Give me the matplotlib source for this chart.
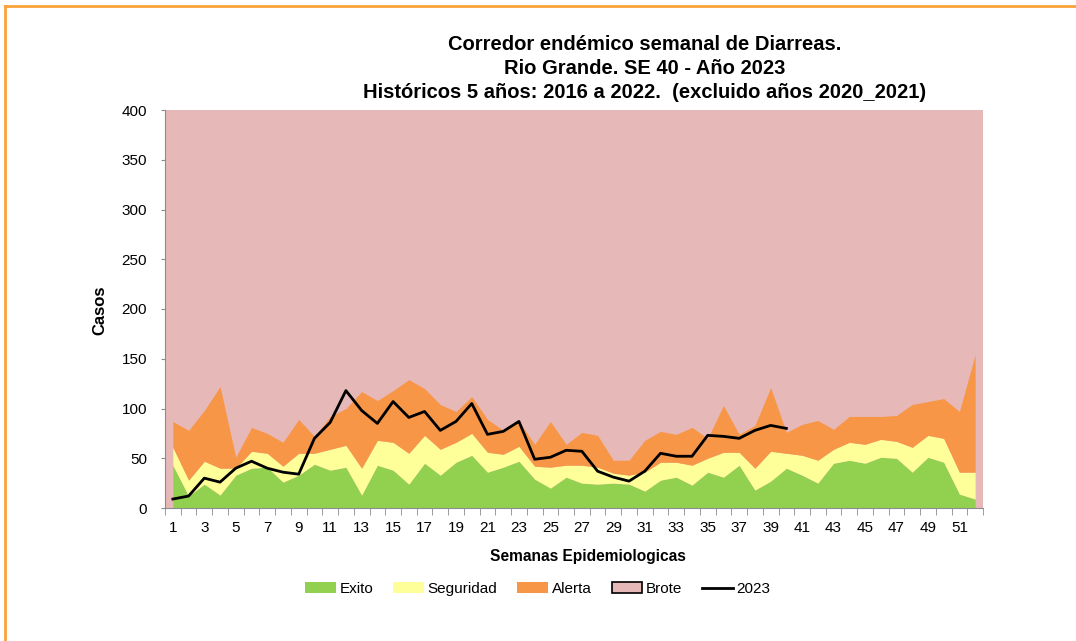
import numpy as np
import matplotlib
matplotlib.use("Agg")
import matplotlib.pyplot as plt
from matplotlib.patches import Patch
from matplotlib.lines import Line2D

plt.rcParams['font.family'] = ['Liberation Sans', 'DejaVu Sans']

# semanas epidemiologicas
semanas = list(range(1, 53))

# umbrales historicos (acumulados): percentil 25, mediana, percentil 75
limite_exito = [43, 12, 24, 13, 33, 40, 41, 26, 33, 44, 38, 41, 13, 43, 38, 24, 45, 33, 46, 53,
                36, 41, 47, 29, 20, 31, 25, 24, 25, 24, 17, 28, 31, 23, 36, 31, 43, 18, 27, 40,
                33, 25, 45, 48, 45, 51, 50, 36, 51, 46, 14, 9]
limite_seguridad = [61, 28, 47, 40, 40, 57, 55, 42, 55, 55, 59, 63, 40, 68, 66, 55, 73, 59, 66, 75,
                    56, 54, 62, 42, 41, 43, 43, 41, 35, 33, 36, 46, 46, 43, 50, 56, 56, 40, 57, 55,
                    53, 48, 59, 66, 64, 69, 67, 61, 73, 70, 36, 36]
limite_alerta = [87, 78, 98, 122, 51, 81, 75, 66, 89, 72, 92, 100, 117, 108, 118, 129, 120, 104, 97, 112,
                 89, 78, 87, 64, 87, 64, 76, 73, 48, 48, 68, 77, 74, 81, 70, 103, 74, 83, 121, 76,
                 84, 88, 79, 92, 92, 92, 93, 104, 107, 110, 97, 154]
limite_brote = 400

# casos 2023 hasta la SE 40
casos_2023 = [9, 12, 30, 26, 40, 47, 40, 36, 34, 70, 86, 118, 98, 85, 107, 91, 97, 78, 87, 105,
              74, 77, 87, 49, 51, 58, 57, 37, 31, 27, 37, 55, 52, 52, 73, 72, 70, 78, 83, 80]

c_exito = '#92D050'
c_seguridad = '#FFFF99'
c_alerta = '#F79646'
c_brote = '#E6B8B7'
gris = '#8C8C8C'

fig = plt.figure(figsize=(10.76, 6.41), dpi=100)
ax = fig.add_axes([165 / 1076, 1 - 508 / 641, 818 / 1076, 398 / 641])
ax.set_facecolor(c_brote)

x = np.array(semanas)
ax.fill_between(x, 0, limite_exito, color=c_exito, lw=0)
ax.fill_between(x, limite_exito, limite_seguridad, color=c_seguridad, lw=0)
ax.fill_between(x, limite_seguridad, limite_alerta, color=c_alerta, lw=0)
ax.plot(range(1, len(casos_2023) + 1), casos_2023, color='black', lw=2)

ax.set_xlim(0.5, 52.5)
ax.set_ylim(0, limite_brote)
ax.set_yticks(np.arange(0, 401, 50))
ax.set_xticks(semanas[::2])
ax.set_xticks(np.arange(0.5, 53, 1), minor=True)
ax.tick_params(axis='x', which='major', length=0, labelsize=11, pad=9)
ax.tick_params(axis='x', which='minor', length=5, color=gris, direction='out')
ax.tick_params(axis='y', length=3, color=gris, labelsize=11, pad=10)
for lado in ['top', 'right']:
    ax.spines[lado].set_visible(False)
for lado in ['left', 'bottom']:
    ax.spines[lado].set_color(gris)

# titulos
fig.text(645 / 1076, 1 - 45 / 641, 'Corredor endémico semanal de Diarreas.',
         ha='center', va='center', fontsize=14.5, fontweight='bold')
fig.text(645 / 1076, 1 - 69 / 641, 'Rio Grande. SE 40 - Año 2023',
         ha='center', va='center', fontsize=14.5, fontweight='bold')
fig.text(645 / 1076, 1 - 93 / 641, 'Históricos 5 años: 2016 a 2022.  (excluido años 2020_2021)',
         ha='center', va='center', fontsize=14.5, fontweight='bold')
fig.text(100 / 1076, 1 - 310 / 641, 'Casos', rotation=90,
         ha='center', va='center', fontsize=12, fontweight='bold')
fig.text(588 / 1076, 1 - 557 / 641, 'Semanas Epidemiologicas',
         ha='center', va='center', fontsize=11.2, fontweight='bold')

handles = [Patch(facecolor=c_exito, edgecolor='none'),
           Patch(facecolor=c_seguridad, edgecolor='none'),
           Patch(facecolor=c_alerta, edgecolor='none'),
           Patch(facecolor=c_brote, edgecolor='black', lw=1.2),
           Line2D([0], [0], color='black', lw=2)]
fig.legend(handles, ['Exito', 'Seguridad', 'Alerta', 'Brote', '2023'],
           loc='center', bbox_to_anchor=(538 / 1076, 1 - 589 / 641), ncol=5,
           frameon=False, fontsize=11, handlelength=2.0, handleheight=0.7,
           handletextpad=0.25, columnspacing=1.3)

# borde naranja
fig.add_artist(Line2D([5 / 1076, 1], [1 - 6 / 641, 1 - 6 / 641], color='#F9A33A', lw=2))
fig.add_artist(Line2D([5 / 1076, 5 / 1076], [0, 1 - 6 / 641], color='#F9A33A', lw=2))

fig.savefig('out.png', dpi=100)
